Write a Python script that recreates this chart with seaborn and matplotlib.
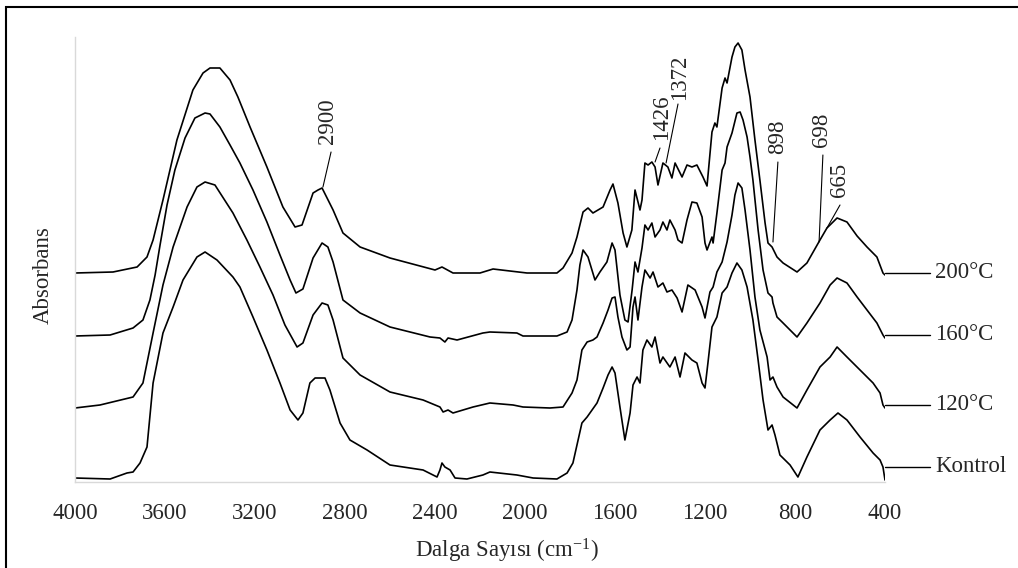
import matplotlib
matplotlib.use("Agg")
import matplotlib.pyplot as plt
import seaborn as sns
import pandas as pd
from matplotlib.patches import Rectangle

# ---------------- data ----------------
series_names = ["200°C", "160°C", "120°C", "Kontrol"]

wn_200 = [4000, 3831, 3724, 3680, 3653, 3609, 3547, 3476, 3431, 3400, 3356, 3311, 3276, 3222, 3147, 3076,
          3022, 2991, 2942, 2920, 2902, 2853, 2809, 2733, 2600, 2400, 2369, 2320, 2200, 2142, 2067, 1991,
          1858, 1831, 1791, 1769, 1742, 1720, 1698, 1653, 1622, 1609, 1587, 1564, 1547, 1525, 1511, 1489,
          1480, 1467, 1453, 1436, 1422, 1409, 1387, 1365, 1347, 1333, 1302, 1280, 1258, 1236, 1209, 1191,
          1169, 1156, 1147, 1124, 1111, 1102, 1080, 1067, 1053, 1036, 1022, 1000, 978, 956, 933, 920,
          902, 880, 853, 791, 747, 689, 658, 613, 569, 524, 480, 436, 409, 400]
ab_200 = [2.09, 2.10, 2.15, 2.25, 2.42, 2.82, 3.42, 3.92, 4.09, 4.14, 4.14, 4.02, 3.85, 3.55, 3.15, 2.75,
          2.55, 2.57, 2.89, 2.92, 2.94, 2.72, 2.49, 2.35, 2.24, 2.12, 2.15, 2.09, 2.09, 2.13, 2.11, 2.09,
          2.09, 2.14, 2.29, 2.45, 2.70, 2.74, 2.69, 2.75, 2.92, 2.98, 2.79, 2.49, 2.35, 2.52, 2.92, 2.72,
          2.82, 3.19, 3.17, 3.20, 3.15, 2.97, 3.19, 3.15, 3.04, 3.19, 3.05, 3.17, 3.15, 3.17, 3.05, 2.96,
          3.50, 3.59, 3.55, 3.94, 4.04, 3.99, 4.25, 4.35, 4.39, 4.32, 4.12, 3.85, 3.42, 3.02, 2.59, 2.39,
          2.35, 2.25, 2.19, 2.10, 2.19, 2.42, 2.54, 2.64, 2.60, 2.46, 2.35, 2.25, 2.09, 2.07]

wn_160 = [4000, 3844, 3742, 3698, 3667, 3644, 3622, 3591, 3556, 3511, 3467, 3422, 3400, 3356, 3311, 3267,
          3209, 3147, 3089, 3044, 3018, 2987, 2942, 2902, 2876, 2853, 2809, 2733, 2600, 2422, 2378, 2356,
          2342, 2302, 2187, 2156, 2036, 2009, 1858, 1813, 1791, 1769, 1756, 1742, 1720, 1689, 1667, 1636,
          1613, 1600, 1578, 1556, 1542, 1524, 1511, 1498, 1480, 1467, 1453, 1436, 1422, 1400, 1387, 1369,
          1356, 1333, 1320, 1302, 1280, 1258, 1236, 1213, 1200, 1191, 1169, 1164, 1147, 1124, 1111, 1102,
          1080, 1058, 1044, 1031, 1013, 1000, 987, 964, 942, 920, 902, 898, 880, 853, 791, 747,
          689, 644, 613, 569, 524, 480, 436, 409, 400]
ab_160 = [1.46, 1.47, 1.54, 1.62, 1.82, 2.07, 2.37, 2.77, 3.12, 3.44, 3.64, 3.69, 3.68, 3.55, 3.37, 3.19,
          2.92, 2.60, 2.27, 2.02, 1.89, 1.93, 2.24, 2.39, 2.35, 2.20, 1.82, 1.69, 1.55, 1.45, 1.44, 1.40,
          1.44, 1.42, 1.49, 1.50, 1.49, 1.46, 1.46, 1.50, 1.62, 1.92, 2.17, 2.32, 2.25, 2.02, 2.10, 2.20,
          2.39, 2.32, 1.87, 1.62, 1.60, 1.92, 2.20, 2.10, 2.34, 2.57, 2.52, 2.59, 2.45, 2.52, 2.60, 2.52,
          2.62, 2.52, 2.42, 2.39, 2.62, 2.80, 2.79, 2.65, 2.39, 2.32, 2.45, 2.39, 2.69, 3.12, 3.19, 3.35,
          3.49, 3.69, 3.70, 3.62, 3.45, 3.25, 3.02, 2.52, 2.12, 1.89, 1.85, 1.79, 1.65, 1.59, 1.45, 1.59,
          1.79, 1.97, 2.04, 1.99, 1.85, 1.72, 1.59, 1.47, 1.44]

wn_120 = [4000, 3889, 3742, 3698, 3653, 3609, 3564, 3502, 3458, 3422, 3378, 3298, 3236, 3178, 3120, 3067,
          3013, 2987, 2942, 2902, 2876, 2853, 2809, 2733, 2600, 2453, 2378, 2364, 2342, 2320, 2231, 2156,
          2053, 2009, 1889, 1831, 1791, 1769, 1747, 1724, 1698, 1680, 1653, 1631, 1613, 1600, 1587, 1569,
          1547, 1533, 1520, 1511, 1498, 1480, 1467, 1444, 1431, 1409, 1387, 1369, 1347, 1324, 1302, 1276,
          1244, 1213, 1200, 1178, 1164, 1147, 1124, 1102, 1080, 1067, 1053, 1036, 1022, 1000, 978, 956,
          924, 911, 898, 880, 853, 791, 747, 689, 644, 613, 569, 511, 453, 422, 409, 400]
ab_120 = [0.74, 0.77, 0.85, 0.99, 1.49, 1.97, 2.35, 2.75, 2.95, 3.00, 2.97, 2.69, 2.42, 2.15, 1.87, 1.57,
          1.35, 1.39, 1.67, 1.79, 1.77, 1.62, 1.24, 1.07, 0.90, 0.82, 0.75, 0.70, 0.72, 0.69, 0.75, 0.79,
          0.77, 0.75, 0.74, 0.75, 0.89, 1.02, 1.32, 1.40, 1.42, 1.45, 1.59, 1.72, 1.84, 1.85, 1.65, 1.45,
          1.32, 1.35, 1.75, 1.85, 1.62, 1.95, 2.12, 2.04, 2.10, 1.95, 1.99, 1.90, 1.92, 1.84, 1.70, 1.97,
          1.92, 1.75, 1.64, 1.90, 1.95, 2.10, 2.20, 2.40, 2.67, 2.87, 2.99, 2.94, 2.72, 2.32, 1.85, 1.52,
          1.25, 1.02, 1.05, 0.95, 0.85, 0.74, 0.92, 1.15, 1.25, 1.35, 1.25, 1.12, 0.99, 0.89, 0.77, 0.74]

wn_k = [4000, 3844, 3769, 3742, 3711, 3680, 3653, 3609, 3564, 3520, 3458, 3422, 3369, 3298, 3267, 3209,
        3147, 3089, 3044, 3009, 2987, 2956, 2933, 2889, 2867, 2822, 2778, 2702, 2600, 2453, 2391, 2378,
        2369, 2356, 2333, 2311, 2258, 2187, 2156, 2036, 1964, 1858, 1813, 1787, 1764, 1747, 1724, 1680,
        1653, 1631, 1613, 1600, 1578, 1556, 1533, 1520, 1502, 1489, 1476, 1458, 1436, 1422, 1400, 1387,
        1356, 1333, 1311, 1289, 1258, 1236, 1213, 1200, 1187, 1169, 1147, 1124, 1102, 1080, 1058, 1036,
        1013, 987, 964, 942, 920, 902, 889, 867, 822, 787, 747, 689, 644, 609, 569, 511, 453, 422, 409, 400]
ab_k = [0.04, 0.03, 0.09, 0.10, 0.19, 0.35, 0.99, 1.49, 1.75, 2.02, 2.25, 2.30, 2.22, 2.05, 1.95, 1.65,
        1.32, 0.99, 0.72, 0.62, 0.69, 0.99, 1.04, 1.04, 0.92, 0.59, 0.42, 0.32, 0.17, 0.12, 0.05, 0.12,
        0.19, 0.15, 0.12, 0.04, 0.03, 0.07, 0.10, 0.07, 0.04, 0.03, 0.09, 0.19, 0.42, 0.59, 0.65, 0.79,
        0.94, 1.07, 1.15, 1.09, 0.75, 0.42, 0.69, 0.97, 1.05, 0.99, 1.32, 1.42, 1.35, 1.45, 1.19, 1.25,
        1.15, 1.25, 1.05, 1.29, 1.22, 1.19, 0.99, 0.94, 1.19, 1.55, 1.65, 1.89, 1.95, 2.09, 2.19, 2.12,
        1.95, 1.62, 1.22, 0.82, 0.52, 0.57, 0.47, 0.27, 0.17, 0.05, 0.25, 0.52, 0.62, 0.69, 0.62, 0.45,
        0.29, 0.22, 0.15, 0.02]

x_ticks = [4000, 3600, 3200, 2800, 2400, 2000, 1600, 1200, 800, 400]
peak_labels = ["2900", "1426", "1372", "898", "698", "665"]

# ---------------- build long table ----------------
frames = []
for name, w, a in zip(series_names, [wn_200, wn_160, wn_120, wn_k], [ab_200, ab_160, ab_120, ab_k]):
    frames.append(pd.DataFrame({"wn": w, "abs": a, "sample": name}))
df = pd.concat(frames, ignore_index=True)

# ---------------- style ----------------
sns.set_theme(style="white")
plt.rcParams["font.family"] = ["Liberation Serif", "DejaVu Serif"]
plt.rcParams["mathtext.fontset"] = "custom"
plt.rcParams["mathtext.rm"] = "Liberation Serif"
plt.rcParams["mathtext.it"] = "Liberation Serif:italic"
FS = 16.5

fig = plt.figure(figsize=(10.18, 5.68), dpi=100)
ax = fig.add_axes([75 / 1018, 86 / 568, 810 / 1018, 445 / 568])

sns.lineplot(data=df, x="wn", y="abs", hue="sample", palette=["black"] * 4,
             estimator=None, sort=False, legend=False, linewidth=1.2, ax=ax)

ax.set_xlim(4000, 400)
ax.set_ylim(0, 4.45)
ax.set_xticks(x_ticks)
ax.set_xticklabels([str(t) for t in x_ticks], fontsize=FS)
ax.set_yticks([])
ax.tick_params(axis="x", length=0, pad=15)
for s in ["top", "right"]:
    ax.spines[s].set_visible(False)
for s in ["left", "bottom"]:
    ax.spines[s].set_color("#d9d9d9")
    ax.spines[s].set_linewidth(1.0)

ax.set_xlabel("Dalga Sayısı (cm$^{\\mathregular{-1}}$)", fontsize=FS)
ax.xaxis.label.set_va("center")
ax.xaxis.set_label_coords(0.533, -0.155)
ax.set_ylabel("Absorbans", fontsize=FS)
ax.yaxis.label.set_va("center")
ax.yaxis.set_label_coords(-0.039, 0.465)

# series labels with leader lines at right end
for name, a in zip(series_names, [ab_200, ab_160, ab_120, ab_k]):
    yv = a[-2]
    ax.plot([400, 200], [yv, yv], color="black", lw=1.0, clip_on=False)
    ax.text(178, yv, name, fontsize=FS, ha="left", va="center", clip_on=False)

# peak annotations: (tip wn, tip abs, line-top wn, line-top abs, text wn, text abs)
peak_layout = [(2898, 2.95, 2862, 3.30, 2876, 3.61),
               (1422, 3.20, 1400, 3.34, 1391, 3.65),
               (1373, 3.19, 1320, 3.78, 1311, 4.05),
               (898, 2.40, 876, 3.20, 876, 3.45),
               (693, 2.40, 676, 3.27, 680, 3.52),
               (658, 2.54, 600, 2.77, 600, 3.02)]
for lab, (tx, ty, lx, ly, px, py) in zip(peak_labels, peak_layout):
    ax.plot([tx, lx], [ty, ly], color="black", lw=0.8)
    ax.text(px, py, lab, rotation=90, fontsize=FS, ha="center", va="center")

# outer frame (cropped at right/bottom like the reference)
fig.patches.append(Rectangle((6 / 1018, -0.1), 1.2, 1 - 7 / 568 + 0.1, transform=fig.transFigure,
                             fill=False, edgecolor="black", linewidth=1.5))

fig.savefig("out.png", dpi=100)
